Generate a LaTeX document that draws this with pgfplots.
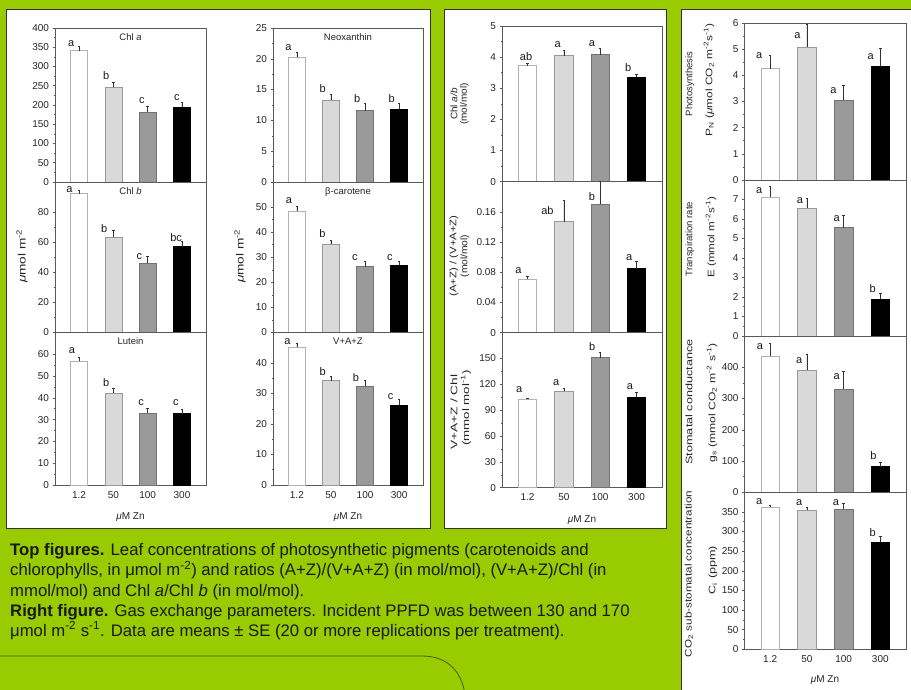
\documentclass[border=0pt]{standalone}
\usepackage{fontspec}
\setmainfont{Liberation Sans}
\usepackage{graphicx}
\usepackage{pgfplots}
\pgfplotsset{compat=1.18}
\definecolor{bg}{HTML}{99CC00}
\definecolor{barB}{HTML}{D9D9D9}
\definecolor{barC}{HTML}{9A9A9A}
\definecolor{curve}{HTML}{4A5A00}
\pgfplotsset{
  panel/.style={
    scale only axis, anchor=north west,
    xmin=0.3, xmax=4.7, ymin=0,
    xtick={1,2,3,4}, xticklabels={},
    major x tick style={draw=none},
    ytick pos=left, tick align=outside,
    major tick length=2.5pt, minor tick length=1.3pt,
    minor y tick num=1,
    axis line style={draw=black!65, line width=0.6pt},
    every tick/.style={black!65, line width=0.5pt},
    ticklabel style={font=\fontsize{10}{10}\selectfont, text=black!85},
    /pgf/number format/assume math mode=true,
    scaled y ticks=false,
    yticklabel style={/pgf/number format/fixed, /pgf/number format/precision=2},
    ybar, bar shift=0pt, bar width=0.5,
    clip=false,
    error bars/y dir=plus, error bars/y explicit,
    error bars/error bar style={black!80, line width=0.6pt},
    error bars/error mark options={rotate=90, mark size=1.2pt, black!80, line width=0.6pt},
  },
  bA/.style={fill=white, draw=black!30, line width=0.5pt},
  bB/.style={fill=barB, draw=black!40, line width=0.5pt},
  bC/.style={fill=barC, draw=black!55, line width=0.5pt},
  bD/.style={fill=black, draw=black, line width=0.5pt},
}
\newcommand{\sig}[3]{\node[font=\fontsize{11}{11}\selectfont, anchor=base, inner sep=0pt, text=black!90] at (axis cs:#1,#2) {#3};}
\newcommand{\ttl}[1]{\node[font=\fontsize{9.5}{10}\selectfont, anchor=north, inner sep=0pt, yshift=-5pt, text=black!85] at (axis description cs:0.5,1) {#1};}
% rotated label: x, y, stretch, text
\newcommand{\rl}[4]{\node[rotate=90, font=\fontsize{9.5}{10}\selectfont, inner sep=0pt, text=black!85] at (#1pt,-#2pt) {\scalebox{#3}[1]{#4}};}
\begin{document}
\begin{tikzpicture}
\useasboundingbox (0pt,0pt) rectangle (911pt,-690pt);
\fill[bg] (0pt,0pt) rectangle (911pt,-690pt);
% panels
\filldraw[fill=white, draw=black!80, line width=1pt] (6pt,-10pt) rectangle (430pt,-528pt);
\filldraw[fill=white, draw=black!80, line width=1pt] (444pt,-10pt) rectangle (666pt,-528pt);
\filldraw[fill=white, draw=black!80, line width=1pt] (681pt,-10pt) rectangle (916pt,-695pt);

% ===== left column 1 =====
\begin{axis}[panel, at={(55pt,-28pt)}, width=151pt, height=154pt, ymax=400, ytick={0,50,...,400}]
\addplot[bA] coordinates {(1,341) +- (0,11)};
\addplot[bB] coordinates {(2,246) +- (0,13)};
\addplot[bC] coordinates {(3,181) +- (0,15)};
\addplot[bD] coordinates {(4,195) +- (0,11)};
\ttl{Chl \textit{a}}
\sig{0.77}{352}{a}\sig{1.79}{266}{b}\sig{2.83}{204}{c}\sig{3.85}{212}{c}
\end{axis}
\begin{axis}[panel, at={(55pt,-182pt)}, width=151pt, height=150.5pt, ymax=100, ytick={0,20,40,60,80}]
\addplot[bA] coordinates {(1,92.3) +- (0,2.2)};
\addplot[bB] coordinates {(2,63.3) +- (0,4.5)};
\addplot[bC] coordinates {(3,46.3) +- (0,4.4)};
\addplot[bD] coordinates {(4,57.1) +- (0,3.6)};
\ttl{Chl \textit{b}}
\sig{0.72}{93}{a}\sig{1.73}{66.5}{b}\sig{2.76}{48.8}{c}\sig{3.83}{60.5}{bc}
\end{axis}
\begin{axis}[panel, at={(55pt,-332.5pt)}, width=151pt, height=152.5pt, ymax=70, ytick={0,10,...,60},
  xticklabels={1.2,50,100,300}]
\addplot[bA] coordinates {(1,56.8) +- (0,1.7)};
\addplot[bB] coordinates {(2,42.3) +- (0,2.0)};
\addplot[bC] coordinates {(3,33.1) +- (0,2.0)};
\addplot[bD] coordinates {(4,32.8) +- (0,1.9)};
\ttl{Lutein}
\sig{0.79}{60.3}{a}\sig{1.79}{45.4}{b}\sig{2.81}{36.7}{c}\sig{3.82}{36.7}{c}
\end{axis}

% ===== left column 2 =====
\begin{axis}[panel, at={(273pt,-28pt)}, width=150pt, height=154pt, ymax=25, ytick={0,5,...,25}]
\addplot[bA] coordinates {(1,20.3) +- (0,0.8)};
\addplot[bB] coordinates {(2,13.3) +- (0,1.0)};
\addplot[bC] coordinates {(3,11.6) +- (0,1.1)};
\addplot[bD] coordinates {(4,11.8) +- (0,0.9)};
\ttl{Neoxanthin}
\sig{0.75}{21.3}{a}\sig{1.76}{14.5}{b}\sig{2.77}{12.85}{b}\sig{3.78}{12.9}{b}
\end{axis}
\begin{axis}[panel, at={(273pt,-182pt)}, width=150pt, height=150.5pt, ymax=60, ytick={0,10,...,50}]
\addplot[bA] coordinates {(1,48.5) +- (0,1.8)};
\addplot[bB] coordinates {(2,35.2) +- (0,1.6)};
\addplot[bC] coordinates {(3,26.3) +- (0,2.2)};
\addplot[bD] coordinates {(4,26.8) +- (0,1.7)};
\ttl{β-carotene}
\sig{0.77}{51.5}{a}\sig{1.75}{37.7}{b}\sig{2.70}{28.9}{c}\sig{3.73}{28.9}{c}
\end{axis}
\begin{axis}[panel, at={(273pt,-332.5pt)}, width=150pt, height=152.5pt, ymax=50, ytick={0,10,...,40},
  xticklabels={1.2,50,100,300}]
\addplot[bA] coordinates {(1,45.3) +- (0,1.3)};
\addplot[bB] coordinates {(2,34.2) +- (0,1.4)};
\addplot[bC] coordinates {(3,32.3) +- (0,1.9)};
\addplot[bD] coordinates {(4,26.3) +- (0,1.7)};
\ttl{V+A+Z}
\sig{0.72}{46}{a}\sig{1.76}{35.9}{b}\sig{2.73}{33.9}{b}\sig{3.75}{28}{c}
\end{axis}

% ===== middle column =====
\begin{axis}[panel, at={(502pt,-26pt)}, width=160pt, height=155.7pt, ymax=5, ytick={0,1,...,5}]
\addplot[bA] coordinates {(1,3.73) +- (0,0.07)};
\addplot[bB] coordinates {(2,4.05) +- (0,0.18)};
\addplot[bC] coordinates {(3,4.08) +- (0,0.19)};
\addplot[bD] coordinates {(4,3.37) +- (0,0.07)};
\sig{0.96}{3.89}{ab}\sig{1.83}{4.31}{a}\sig{2.77}{4.35}{a}\sig{3.77}{3.54}{b}
\end{axis}
\begin{axis}[panel, at={(502pt,-181.7pt)}, width=160pt, height=151pt, ymax=0.2, ytick={0,0.04,0.08,0.12,0.16}]
\addplot[bA] coordinates {(1,0.071) +- (0,0.004)};
\addplot[bB] coordinates {(2,0.147) +- (0,0.028)};
\addplot[bC] coordinates {(3,0.170) +- (0,0.030)};
\addplot[bD] coordinates {(4,0.085) +- (0,0.009)};
\sig{0.75}{0.079}{a}\sig{1.55}{0.156}{ab}\sig{2.77}{0.175}{b}\sig{3.80}{0.096}{a}
\end{axis}
\begin{axis}[panel, at={(502pt,-332.7pt)}, width=160pt, height=155pt, ymax=180, ytick={0,30,...,150},
  xticklabels={1.2,50,100,300}]
\addplot[bA] coordinates {(1,102.5) +- (0,1.9)};
\addplot[bB] coordinates {(2,112.1) +- (0,3.9)};
\addplot[bC] coordinates {(3,151.2) +- (0,5.8)};
\addplot[bD] coordinates {(4,105.1) +- (0,5.2)};
\sig{0.77}{110}{a}\sig{1.79}{118.8}{a}\sig{2.78}{159.7}{b}\sig{3.82}{114}{a}
\end{axis}

% ===== right column =====
\begin{axis}[panel, at={(744.5pt,-23pt)}, width=161.5pt, height=157pt, ymax=6, ytick={0,1,...,6}]
\addplot[bA] coordinates {(1,4.26) +- (0,0.51)};
\addplot[bB] coordinates {(2,5.09) +- (0,0.86)};
\addplot[bC] coordinates {(3,3.05) +- (0,0.58)};
\addplot[bD] coordinates {(4,4.35) +- (0,0.68)};
\sig{0.70}{4.64}{a}\sig{1.74}{5.4}{a}\sig{2.72}{3.3}{a}\sig{3.74}{4.6}{a}
\end{axis}
\begin{axis}[panel, at={(744.5pt,-180pt)}, width=161.5pt, height=156pt, ymax=8, ytick={0,1,...,7}]
\addplot[bA] coordinates {(1,7.11) +- (0,0.57)};
\addplot[bB] coordinates {(2,6.55) +- (0,0.50)};
\addplot[bC] coordinates {(3,5.56) +- (0,0.64)};
\addplot[bD] coordinates {(4,1.90) +- (0,0.29)};
\sig{0.70}{7.33}{a}\sig{1.81}{6.81}{a}\sig{2.81}{5.85}{a}\sig{3.79}{2.23}{b}
\end{axis}
\begin{axis}[panel, at={(744.5pt,-336pt)}, width=161.5pt, height=156.3pt, ymax=500, ytick={0,100,...,400}]
\addplot[bA] coordinates {(1,435) +- (0,41)};
\addplot[bB] coordinates {(2,392) +- (0,48)};
\addplot[bC] coordinates {(3,331) +- (0,56)};
\addplot[bD] coordinates {(4,82) +- (0,13)};
\sig{0.72}{457}{a}\sig{1.79}{413}{a}\sig{2.81}{360}{a}\sig{3.81}{104}{b}
\end{axis}
\begin{axis}[panel, at={(744.5pt,-492.3pt)}, width=161.5pt, height=157pt, ymax=400, ytick={0,50,...,350},
  xticklabels={1.2,50,100,300}]
\addplot[bA] coordinates {(1,362) +- (0,6)};
\addplot[bB] coordinates {(2,354) +- (0,7)};
\addplot[bC] coordinates {(3,357) +- (0,14)};
\addplot[bD] coordinates {(4,274) +- (0,14)};
\sig{0.70}{369}{a}\sig{1.79}{367}{a}\sig{2.79}{367}{a}\sig{3.79}{288}{b}
\end{axis}

% ===== axis labels =====
\begin{scope}[every node/.style={text=black!85, inner sep=0pt}]
\node[rotate=90, font=\fontsize{10.5}{11}\selectfont] at (22pt,-256pt) {\scalebox{1.3}[1]{\textit{μ}mol m\textsuperscript{-2}}};
\node[rotate=90, font=\fontsize{10.5}{11}\selectfont] at (240pt,-256pt) {\scalebox{1.3}[1]{\textit{μ}mol m\textsuperscript{-2}}};
\node[font=\fontsize{10}{11}\selectfont] at (130.5pt,-517pt) {\textit{μ}M Zn};
\node[font=\fontsize{10}{11}\selectfont] at (348pt,-517pt) {\textit{μ}M Zn};
\node[font=\fontsize{10}{11}\selectfont] at (582pt,-520pt) {\textit{μ}M Zn};
\node[font=\fontsize{10}{11}\selectfont] at (825pt,-680pt) {\textit{μ}M Zn};
\end{scope}
\rl{454}{104}{1.05}{Chl \textit{a/b}}
\rl{464.5}{104}{1.05}{(mol/mol)}
\rl{454}{256}{1.2}{(A+Z) / (V+A+Z)}
\rl{465}{256}{1.08}{(mol/mol)}
\rl{454}{412}{1.45}{V+A+Z / Chl}
\rl{466}{408}{1.4}{(mmol mol\textsuperscript{-1})}
\rl{690}{84}{1}{Photosynthesis}
\rl{709}{80}{1.25}{P\textsubscript{N} (\textit{μ}mol CO\textsubscript{2} m\textsuperscript{-2}s\textsuperscript{-1})}
\rl{690}{239}{1}{Transpiration rate}
\rl{711}{237}{1.22}{E (mmol m\textsuperscript{-2}s\textsuperscript{-1})}
\rl{689}{402}{1.33}{Stomatal conductance}
\rl{712}{403}{1.28}{g\textsubscript{s} (mmol CO\textsubscript{2} m\textsuperscript{-2} s\textsuperscript{-1})}
\rl{689}{574}{1.23}{CO\textsubscript{2} sub-stomatal concentration}
\rl{713}{570}{1.33}{C\textsubscript{i} (ppm)}

% ===== caption =====
\begin{scope}[every node/.style={anchor=base west, inner sep=0pt, text=black!90, font=\fontsize{16.7}{17}\selectfont}]
\node at (10pt,-555pt) {\textbf{Top figures.} Leaf concentrations of photosynthetic pigments (carotenoids and};
\node at (10pt,-575.5pt) {chlorophylls, in μmol m\textsuperscript{-2}) and ratios (A+Z)/(V+A+Z) (in mol/mol), (V+A+Z)/Chl (in};
\node at (10pt,-596pt) {mmol/mol) and Chl \textit{a}/Chl \textit{b} (in mol/mol).};
\node at (10pt,-616pt) {\textbf{Right figure.} Gas exchange parameters. Incident PPFD was between 130 and 170};
\node at (10pt,-636pt) {μmol m\textsuperscript{-2} s\textsuperscript{-1}. Data are means ± SE (20 or more replications per treatment).};
\end{scope}
\draw[curve, line width=0.8pt] (-5pt,-656pt) -- (422pt,-656pt) .. controls (448pt,-656pt) and (462pt,-672pt) .. (465pt,-695pt);
\end{tikzpicture}
\end{document}
